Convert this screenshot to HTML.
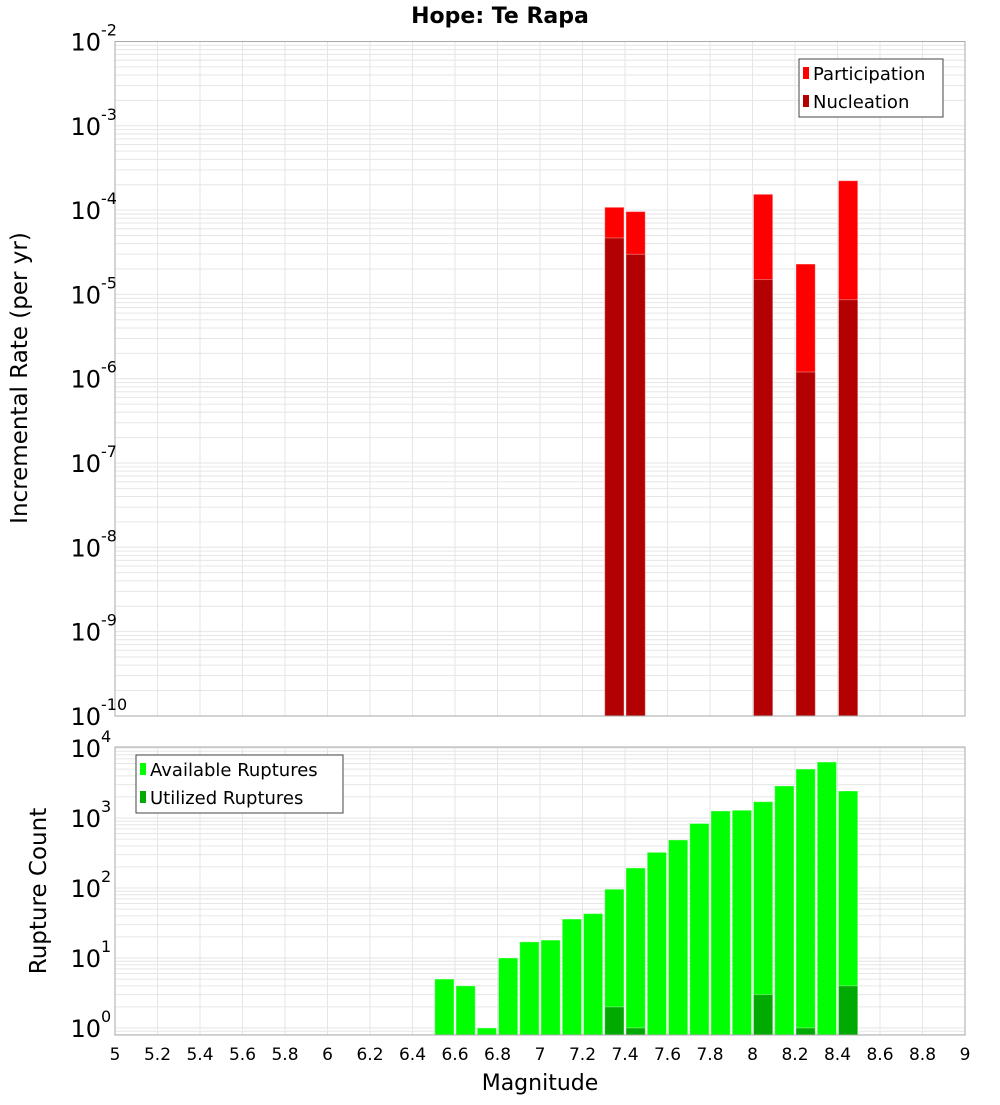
<!DOCTYPE html>
<html><head><meta charset="utf-8"><style>
body{margin:0;background:#fff}
svg text{font-family:"DejaVu Sans","Liberation Sans",sans-serif;fill:#000}
</style></head><body>
<svg id="c" width="1000" height="1100" xmlns="http://www.w3.org/2000/svg">
<text x="500" y="23" text-anchor="middle" font-size="22" font-weight="bold">Hope: Te Rapa</text>
<g id="topPanel"></g><g id="botPanel"></g>
<text transform="translate(27,378) rotate(-90)" text-anchor="middle" font-size="23">Incremental Rate (per yr)</text>
<text transform="translate(46,891) rotate(-90)" text-anchor="middle" font-size="23">Rupture Count</text>
<text x="540" y="1090" text-anchor="middle" font-size="22">Magnitude</text>
</svg>
<script>
const rateMags=[7.35,7.45,8.05,8.25,8.45];
const participation=[1.08e-4,9.6e-5,1.54e-4,2.29e-5,2.23e-4];
const nucleation=[4.67e-5,2.99e-5,1.5e-5,1.2e-6,8.65e-6];
const countMags=[6.55,6.65,6.75,6.85,6.95,7.05,7.15,7.25,7.35,7.45,7.55,7.65,7.75,7.85,7.95,8.05,8.15,8.25,8.35,8.45];
const available=[5,4,1,10,17,18,36,43,96,193,323,485,835,1260,1290,1710,2870,5000,6300,2430];
const utilMags=[7.35,7.45,8.05,8.25,8.45];
const utilized=[2,1,3,1,4];
const xTicks=[5,5.2,5.4,5.6,5.8,6,6.2,6.4,6.6,6.8,7,7.2,7.4,7.6,7.8,8,8.2,8.4,8.6,8.8,9];
const topDecades=[-2,-3,-4,-5,-6,-7,-8,-9,-10];
const botDecades=[0,1,2,3,4];

const NS="http://www.w3.org/2000/svg";
const svgEl=document.getElementById('c');
function mk(parent,tag,attrs){const e=document.createElementNS(NS,tag);for(const k in attrs)e.setAttribute(k,attrs[k]);parent.appendChild(e);return e;}
const X0=115,X1=965;
const xs=m=>X0+(m-5)/(9-5)*(X1-X0);
const yTop=v=>41.5+(-2-Math.log10(v))*84.3;
const yBot=v=>1028-Math.log10(v)*70;

function panel(g,yTopPx,yBotPx,yf,minE,maxE,nm){
  for(let e=minE;e<=maxE;e++)for(let k=1;k<10;k++){const y=yf(k*Math.pow(10,e));if(y<yTopPx-0.5||y>yBotPx+0.5)continue;
    const l=mk(g,'line',{x1:X0,x2:X1,y1:y,y2:y,stroke:'#e6e6e6','stroke-width':1});
    
    }
  xTicks.forEach(t=>{const l=mk(g,'line',{x1:xs(t),x2:xs(t),y1:yTopPx,y2:yBotPx,stroke:'#e6e6e6','stroke-width':1});
    
    });
}
const topG=document.getElementById('topPanel'),botG=document.getElementById('botPanel');
panel(topG,41.5,716,yTop,-10,-3,'top');
panel(botG,747,1035,yBot,-1,4,'bottom');

function bar(g,m,v,yf,base,col,nm){const x=xs(m-0.05)+1,w=xs(m+0.05)-xs(m-0.05)-2,y=yf(v);
  const r=mk(g,'rect',{x:x,y:y,width:w,height:base-y,fill:col,stroke:'rgba(255,255,255,0.35)','stroke-width':1});
  
  }
rateMags.forEach((m,i)=>bar(topG,m,participation[i],yTop,716,'#ff0000','participation-bar'));
rateMags.forEach((m,i)=>bar(topG,m,nucleation[i],yTop,716,'#b30000','nucleation-bar'));
countMags.forEach((m,i)=>bar(botG,m,available[i],yBot,1035,'#00ff00','available-bar'));
utilMags.forEach((m,i)=>bar(botG,m,utilized[i],yBot,1035,'#00aa00','utilized-bar'));

[[41.5,716],[747,1035]].forEach(([a,b],i)=>{const r=mk(svgEl,'rect',{x:X0,y:a,width:X1-X0,height:b-a,fill:'none',stroke:'#aaaaaa','stroke-width':1});
  
  });

function ylab(e,y,nm){const t=mk(svgEl,'text',{x:101,y:y+9,'text-anchor':'end','font-size':24});t.textContent='10';
  
  
  const s=mk(svgEl,'text',{x:101,y:y-6,'font-size':16});s.textContent=String(e);
  
  }
topDecades.forEach(e=>ylab(e,yTop(Math.pow(10,e)),'top-y-tick-label'));
botDecades.forEach(e=>ylab(e,yBot(Math.pow(10,e)),'bottom-y-tick-label'));
xTicks.forEach(t=>{const l=mk(svgEl,'text',{x:xs(t),y:1060,'text-anchor':'middle','font-size':17});l.textContent=String(t);
  
  });

function legend(x,y,w,items,nm){const g=mk(svgEl,'g',{});
  
  
  mk(g,'rect',{x:x,y:y,width:w,height:58,fill:'#fff',stroke:'#444','stroke-width':1});
  items.forEach(([lab,col],i)=>{const cy=y+14+i*28;
    const sw=mk(g,'rect',{x:x+4,y:cy-6,width:6,height:12,fill:col});
    
    
    const t=mk(g,'text',{x:x+14,y:cy+7,'font-size':18});t.textContent=lab;
    
    });}
legend(799,59,144,[['Participation','#ff0000'],['Nucleation','#b30000']],'top-legend');
legend(136,755,207,[['Available Ruptures','#00ff00'],['Utilized Ruptures','#00aa00']],'bottom-legend');
</script>
</body></html>
